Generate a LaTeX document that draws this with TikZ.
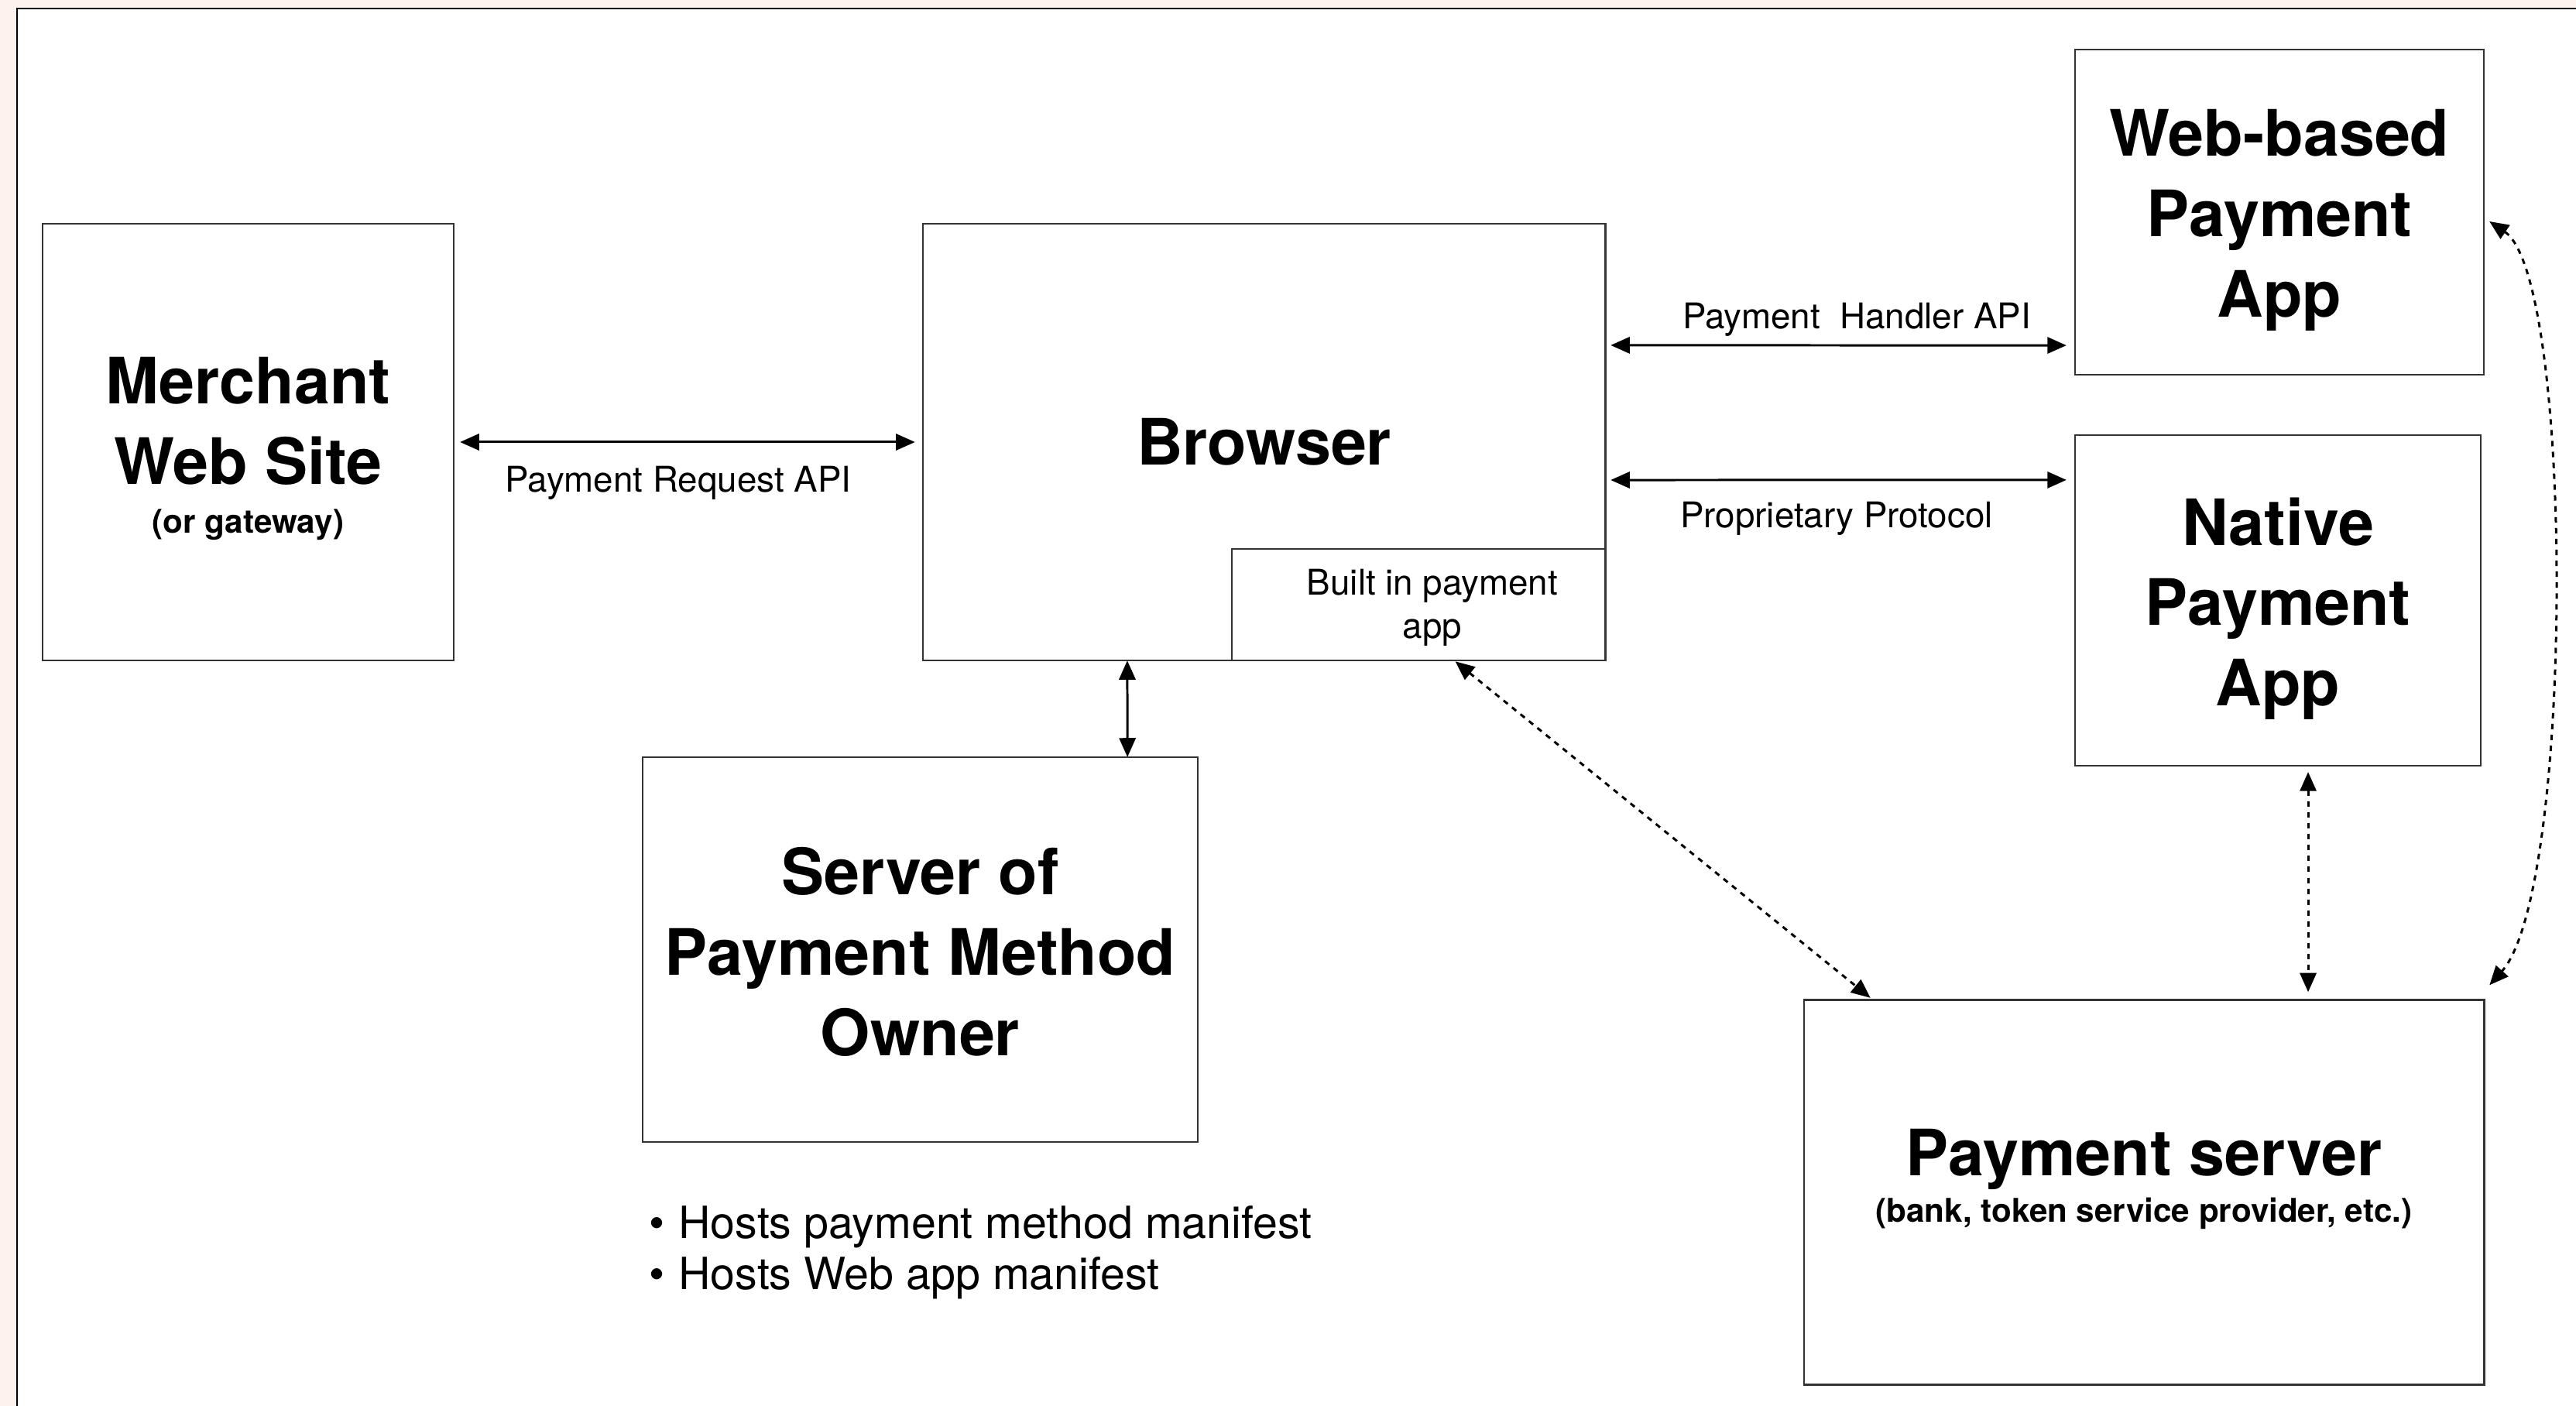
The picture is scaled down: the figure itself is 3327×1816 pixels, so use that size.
\documentclass[tikz,border=0pt]{standalone}
\usepackage{fontspec}
\setmainfont{TeX Gyre Heros}
\usetikzlibrary{arrows.meta}

\definecolor{pagebg}{RGB}{253,242,238}

\tikzset{
  box/.style={draw=black!80, line width=0.7pt, fill=white, inner sep=0pt, outer sep=0pt},
  title/.style={align=center, inner sep=0pt, font=\fontsize{23.5}{29.5}\selectfont\bfseries},
  lbl/.style={font=\fontsize{13}{16}\selectfont, inner sep=0pt, align=center},
  link/.style={line width=0.85pt, {Triangle[length=7pt,width=6pt]}-{Triangle[length=7pt,width=6pt]}},
  dotlink/.style={link, dash pattern=on 2pt off 2pt}
}
\newcommand{\subline}[1]{{\fontsize{12}{14}\selectfont\bfseries #1}}

\begin{document}
\begin{tikzpicture}[x=0.01cm,y=-0.01cm]
\useasboundingbox (0,0) rectangle (3327,1816);
\clip (0,0) rectangle (3327,1816);
\fill[pagebg] (0,0) rectangle (3327,1816);
\draw[line width=0.6pt, fill=white] (22,11) rectangle (3380,1880);

% boxes
\node[box, minimum width=5.31cm, minimum height=5.64cm] (merchant) at (320.5,571) {};
\node[box, minimum width=8.81cm, minimum height=5.64cm] (browser) at (1632.5,571) {};
\node[box, minimum width=4.82cm, minimum height=1.44cm] (builtin) at (1832,781) {};
\node[box, minimum width=5.28cm, minimum height=4.20cm] (webapp) at (2944,274) {};
\node[box, minimum width=5.24cm, minimum height=4.27cm] (native) at (2942,775.5) {};
\node[box, minimum width=7.17cm, minimum height=4.97cm] (server) at (1188.5,1226.5) {};
\node[box, minimum width=8.78cm, minimum height=4.97cm] (payserver) at (2769,1540) {};

% box texts
\node[title, yshift=-0.085cm] (merchant-t) at (merchant) {Merchant\\Web Site\\[-11.5pt]\subline{(or gateway)}};
\node[title] (browser-t) at (browser) {Browser};
\node[lbl, xshift=0.18cm, yshift=-0.04cm] (builtin-t) at (builtin) {Built in payment\\app};
\node[title, yshift=-0.105cm] (webapp-t) at (webapp) {Web-based\\Payment\\App};
\node[title, yshift=-0.105cm] (native-t) at (native) {Native\\Payment\\App};
\node[title, yshift=-0.03cm] (server-t) at (server) {Server of\\Payment Method\\Owner};
\node[title, yshift=0.17cm] (payserver-t) at (payserver)
  {Payment server\\[-12.5pt]\subline{(bank, token service provider, etc.)}};

% labels
\node[lbl] (reqapi) at (876,624) {Payment Request API};
\node[lbl] (handlerapi) at (2398,413) {Payment\ \ Handler API};
\node[lbl] (proto) at (2372,670) {Proprietary Protocol};
\node[lbl, anchor=west, align=left, font=\fontsize{16.3}{18.8}\selectfont] (hosts) at (838,1618)
  {\textbullet\hspace{5pt}Hosts payment method manifest\\\textbullet\hspace{5pt}Hosts Web app manifest};

% connectors
\draw[link, shorten <=0.08cm, shorten >=0.1cm] (merchant.east) -- (browser.west);
\draw[link, shorten <=0.07cm, shorten >=0.11cm] ([yshift=1.25cm]browser.east) -- ([yshift=-1.72cm]webapp.west);
\draw[link, shorten <=0.07cm, shorten >=0.11cm] ([yshift=-0.49cm]browser.east) -- ([yshift=1.555cm]native.west);
\draw[link] ([xshift=-1.765cm]browser.south) -- ([xshift=2.675cm]server.north);
\draw[dotlink, shorten <=0.02cm, shorten >=0.04cm] ([xshift=0.46cm]builtin.south) -- ([xshift=0.89cm]payserver.north west);
\draw[dotlink, shorten <=0.08cm, shorten >=0.1cm] ([xshift=0.39cm]native.south) -- ([xshift=0.39cm]native.south |- payserver.north);
\draw[dotlink] ([shift={(0.07cm,-0.12cm)}]webapp.east) .. controls (3325,360) and (3325,1150) .. ([shift={(0.07cm,0.19cm)}]payserver.north east);
\end{tikzpicture}
\end{document}
